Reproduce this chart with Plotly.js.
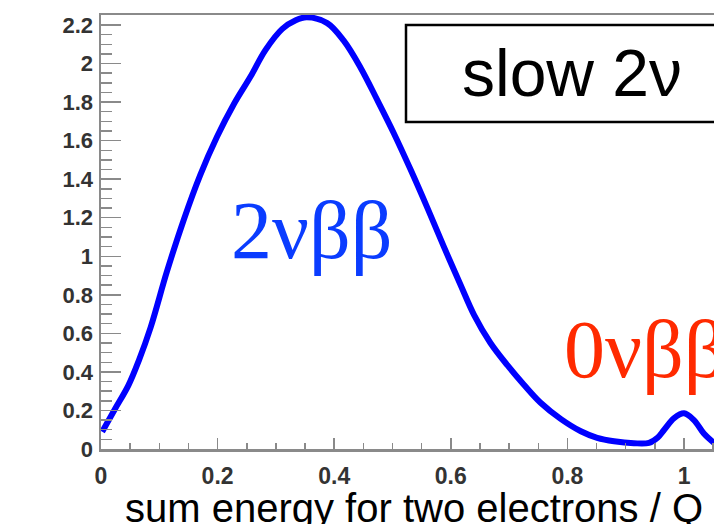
<!DOCTYPE html>
<html>
<head>
<meta charset="utf-8">
<script src="https://cdn.plot.ly/plotly-3.0.1.min.js"></script>
<style>html,body{margin:0;padding:0;background:#fff;overflow:hidden;}</style>
</head>
<body>
<div id="chart" style="width:726px;height:524px;"></div>
<script>
// Sum-energy spectrum (arbitrary units) vs. sum energy / Q
const energy = [0.002, 0.0245, 0.047, 0.065, 0.085, 0.113, 0.142, 0.170, 0.199, 0.228, 0.256, 0.282, 0.311, 0.334, 0.353, 0.388, 0.416, 0.445, 0.474, 0.502, 0.531, 0.560, 0.588, 0.617, 0.640, 0.668, 0.697, 0.725, 0.754, 0.789, 0.823, 0.851, 0.880, 0.914, 0.940, 0.955, 0.966, 0.983, 1.000, 1.017, 1.034, 1.052];
const counts = [0.09, 0.21, 0.33, 0.46, 0.63, 0.92, 1.19, 1.42, 1.62, 1.79, 1.93, 2.07, 2.18, 2.225, 2.24, 2.21, 2.12, 1.98, 1.81, 1.64, 1.45, 1.25, 1.05, 0.85, 0.695, 0.55, 0.435, 0.335, 0.24, 0.155, 0.092, 0.058, 0.04, 0.03, 0.032, 0.06, 0.10, 0.16, 0.185, 0.15, 0.08, 0.03];

const xTickVals = [0, 0.2, 0.4, 0.6, 0.8, 1];
const xTickText = ["0", "0.2", "0.4", "0.6", "0.8", "1"];
const yTickVals = [0, 0.2, 0.4, 0.6, 0.8, 1, 1.2, 1.4, 1.6, 1.8, 2, 2.2];
const yTickText = ["0", "0.2", "0.4", "0.6", "0.8", "1", "1.2", "1.4", "1.6", "1.8", "2", "2.2"];

const labels = ["2νββ", "0νββ", "slow 2ν"];
const xTitle = "sum energy for two electrons / Q";

const axisColor = '#8a8a8a';
const sans = 'Liberation Sans, Arial, sans-serif';
const serif = 'Liberation Serif, Times New Roman, serif';

const trace = {
  x: energy, y: counts, type: 'scatter', mode: 'lines',
  line: {color: '#0000ff', width: 6, shape: 'spline', smoothing: 1},
  hoverinfo: 'skip', cliponaxis: true
};

const layout = {
  width: 726, height: 524,
  margin: {l: 101, r: 0, t: 15, b: 75},
  paper_bgcolor: '#fff', plot_bgcolor: '#fff',
  showlegend: false,
  xaxis: {
    range: [0, 1.072], autorange: false,
    tickvals: xTickVals, ticktext: xTickText,
    ticks: 'inside', ticklen: 11, tickwidth: 1.5, tickcolor: axisColor,
    minor: {dtick: 0.05, tick0: 0, ticks: 'inside', ticklen: 6, tickwidth: 1.5, tickcolor: axisColor},
    showline: true, linecolor: axisColor, linewidth: 2.5, mirror: true,
    showgrid: false, zeroline: false,
    tickfont: {family: sans, size: 23, color: '#333', weight: 'bold'}, ticklabelstandoff: 5,
    automargin: false
  },
  yaxis: {
    range: [0, 2.252], autorange: false,
    tickvals: yTickVals, ticktext: yTickText,
    ticks: 'inside', ticklen: 20, tickwidth: 1.5, tickcolor: axisColor,
    minor: {dtick: 0.05, tick0: 0, ticks: 'inside', ticklen: 11, tickwidth: 1.5, tickcolor: axisColor},
    showline: true, linecolor: axisColor, linewidth: 2.5, mirror: false,
    showgrid: false, zeroline: false,
    tickfont: {family: sans, size: 22, color: '#333', weight: 'bold'}, ticklabelstandoff: 1,
    automargin: false
  },
  shapes: [{
    type: 'rect', xref: 'paper', yref: 'paper',
    x0: 0.488, x1: 1.2, y0: 0.7535, y1: 0.977,
    line: {color: '#000', width: 2.5}, fillcolor: '#fff'
  }],
  annotations: [
    {text: labels[0], xref: 'x', yref: 'y', x: 0.362, y: 1.132, xanchor: 'center', yanchor: 'middle',
     showarrow: false, font: {family: serif, size: 82, color: '#0a3cff'}},
    {text: labels[1], xref: 'x', yref: 'y', x: 0.791, y: 0.514, xanchor: 'left', yanchor: 'middle',
     showarrow: false, font: {family: serif, size: 82, color: '#ff2a00'}},
    {text: labels[2], xref: 'paper', yref: 'paper', x: 0.7536, y: 0.8665, xanchor: 'center', yanchor: 'middle',
     showarrow: false, font: {family: sans, size: 66, color: '#000'}},
    {text: xTitle, xref: 'paper', yref: 'paper', x: 0.5, y: -0.136, xanchor: 'center', yanchor: 'middle',
     showarrow: false, font: {family: sans, size: 40, color: '#000'}}
  ]
};

Plotly.newPlot('chart', [trace], layout, {staticPlot: true, displayModeBar: false});
</script>
</body>
</html>
